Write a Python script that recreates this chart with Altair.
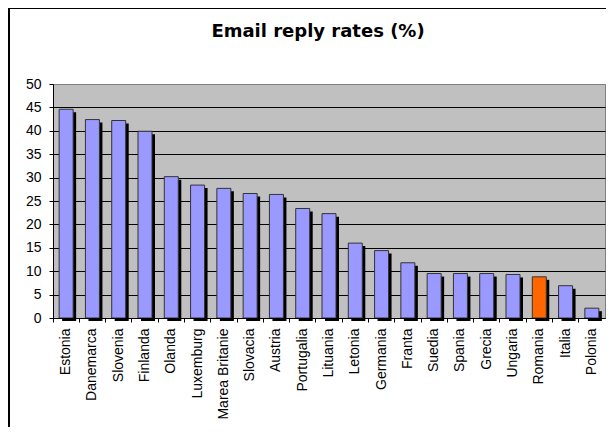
import altair as alt
import pandas as pd

countries = ["Estonia", "Danemarca", "Slovenia", "Finlanda", "Olanda", "Luxemburg",
             "Marea Britanie", "Slovacia", "Austria", "Portugalia", "Lituania", "Letonia",
             "Germania", "Franta", "Suedia", "Spania", "Grecia", "Ungaria", "Romania",
             "Italia", "Polonia"]
rates = [44.6, 42.4, 42.2, 39.9, 30.2, 28.4, 27.7, 26.6, 26.4, 23.4, 22.3, 16.0,
         14.4, 11.8, 9.5, 9.5, 9.5, 9.3, 8.8, 6.9, 2.1]
highlight = "Romania"
y_ticks = list(range(0, 51, 5))

df = pd.DataFrame({"country": countries, "rate": rates})

LABEL_FONT = "Liberation Sans"

x_enc = alt.X(
    "country:N", sort=None,
    scale=alt.Scale(paddingInner=0, paddingOuter=0),
    axis=alt.Axis(
        orient="bottom", title=None, labelAngle=-90, labelFont=LABEL_FONT,
        labelFontSize=14, labelColor="black", tickColor="black", domainColor="black",
        tickSize=4, bandPosition=0, labelPadding=6, grid=False, zindex=1,
    ),
)
y_enc = alt.Y(
    "rate:Q",
    scale=alt.Scale(domain=[0, 50], nice=False, zero=True),
    axis=alt.Axis(
        values=y_ticks, title=None, labelFont=LABEL_FONT, labelFontSize=14,
        labelColor="black", tickColor="black", domainColor="black", tickSize=4,
        labelPadding=8, grid=True,
        gridColor={"condition": {"test": "datum.value >= 50", "value": "#808080"},
                   "value": "#000000"},
    ),
)

base = alt.Chart(df)

shadow = base.mark_bar(color="black", size=14, xOffset=3, yOffset=3).encode(x=x_enc, y=y_enc)

bars = base.mark_bar(size=14, stroke="#333333", strokeWidth=1).encode(
    x=x_enc,
    y=y_enc,
    color=alt.condition(
        alt.datum.country == highlight, alt.value("#FF6600"), alt.value("#9999FF")
    ),
)

frame = alt.Chart(alt.Data(values=[{}])).mark_rect(
    fill="transparent", stroke="black", strokeWidth=2, clip=False
).encode(
    x=alt.value(-44), x2=alt.value(800), y=alt.value(-76), y2=alt.value(600)
)

chart = alt.layer(shadow, bars, frame).properties(
    width=552,
    height=234,
    title=alt.TitleParams(
        "Email reply rates (%)", font="DejaVu Sans", fontSize=18, fontWeight="bold",
        color="black", anchor="middle", dx=-11, dy=82, offset=34, baseline="alphabetic",
    ),
    autosize=alt.AutoSizeParams(type="none"),
    padding={"left": 45, "top": 76, "right": 1, "bottom": 109},
).configure(
    background="white"
).configure_view(
    fill="#C0C0C0", stroke="#808080", strokeWidth=1
)

chart.save("out.html", embed_options={"renderer": "svg", "actions": False})
